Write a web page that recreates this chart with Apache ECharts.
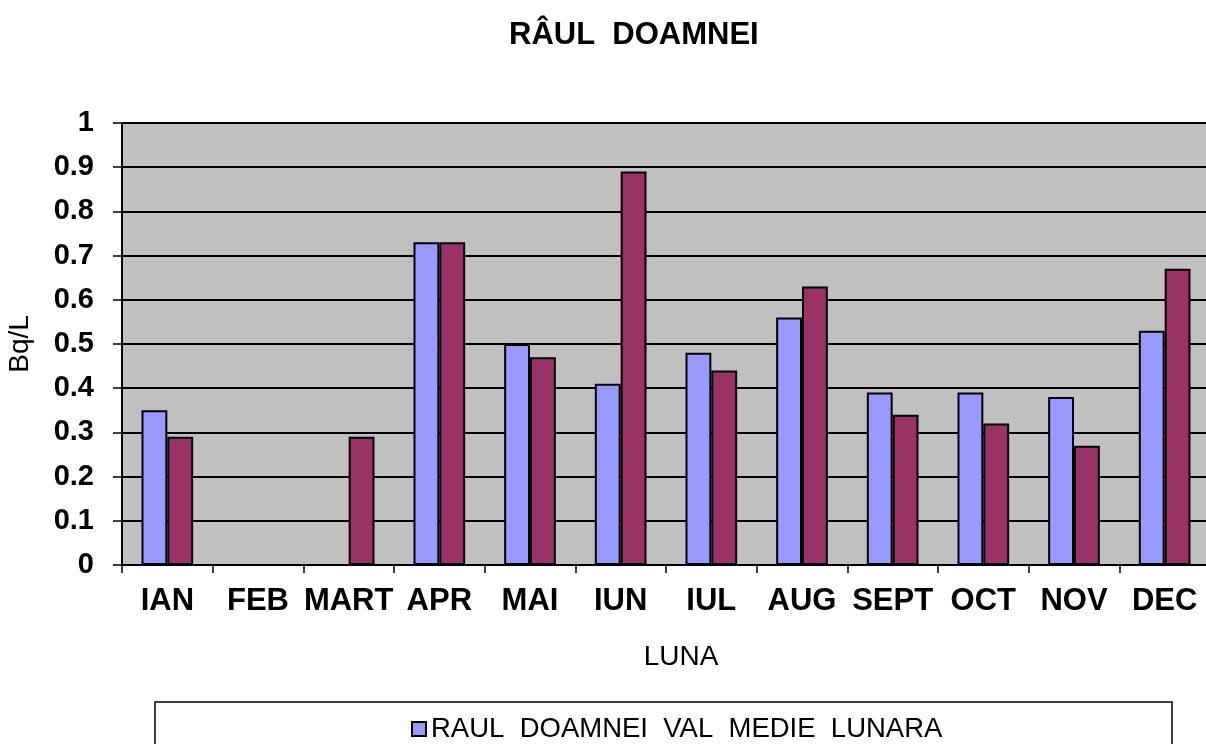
<!DOCTYPE html>
<html>
<head>
<meta charset="utf-8">
<script src="https://cdn.jsdelivr.net/npm/echarts@6/dist/echarts.min.js"></script>
<style>
  html, body { margin: 0; padding: 0; background: #fff; }
  #chart { width: 1206px; height: 744px; }
</style>
</head>
<body>
<div id="chart"></div>
<script>
// luni
var months = ["IAN", "FEB", "MART", "APR", "MAI", "IUN", "IUL", "AUG", "SEPT", "OCT", "NOV", "DEC"];
// valori medii lunare (Bq/L)
var valMedie = [0.35, null, null, 0.73, 0.50, 0.41, 0.48, 0.56, 0.39, 0.39, 0.38, 0.53];
// a doua serie (legenda ei e taiata in imagine)
var valMaxima = [0.29, null, 0.29, 0.73, 0.47, 0.89, 0.44, 0.63, 0.34, 0.32, 0.27, 0.67];
var yTicks = [0, 0.1, 0.2, 0.3, 0.4, 0.5, 0.6, 0.7, 0.8, 0.9, 1];

var chart = echarts.init(document.getElementById("chart"));
var font = "Liberation Sans, Arial, sans-serif";

var option = {
  animation: false,
  title: {
    text: "RÂUL  DOAMNEI",
    left: 504,
    top: 15,
    textStyle: { fontFamily: font, fontSize: 31, fontWeight: "bold", color: "#000" }
  },
  graphic: [
    {
      type: "rect",
      shape: { x: 155, y: 702, width: 1017, height: 70 },
      style: { fill: "#fff", stroke: "#000", lineWidth: 1.5 },
      z: 0
    }
  ],
  legend: {
    left: 406,
    top: 710,
    itemWidth: 14,
    itemHeight: 14,
    textStyle: { fontFamily: font, fontSize: 27.5, color: "#000" },
    data: [{ name: "RAUL  DOAMNEI  VAL  MEDIE  LUNARA", icon: "rect" }],
    z: 5
  },
  grid: {
    left: 122,
    right: -4,
    top: 123,
    bottom: 179,
    outerBoundsMode: "none",
    show: true,
    backgroundColor: "#C0C0C0",
    borderColor: "#808080",
    borderWidth: 1
  },
  xAxis: {
    type: "category",
    data: months,
    name: "LUNA",
    nameLocation: "middle",
    nameGap: 78,
    nameTextStyle: { fontFamily: font, fontSize: 28, color: "#000", padding: [0, 0, 0, 30] },
    axisLine: { show: true, lineStyle: { color: "#000", width: 2 } },
    axisTick: { show: true, length: 8, lineStyle: { color: "#000", width: 1.5 } },
    axisLabel: {
      fontFamily: font,
      fontSize: 31,
      fontWeight: "bold",
      color: "#000",
      margin: 21,
      interval: 0
    }
  },
  yAxis: {
    type: "value",
    min: 0,
    max: 1,
    interval: 0.1,
    name: "Bq/L",
    nameLocation: "middle",
    nameGap: 88,
    nameRotate: 90,
    nameTextStyle: { fontFamily: font, fontSize: 28, color: "#000" },
    axisLine: { show: true, lineStyle: { color: "#000", width: 2 } },
    axisTick: { show: true, inside: false, length: 9, lineStyle: { color: "#000", width: 1.5 } },
    axisLabel: {
      fontFamily: font,
      fontSize: 29,
      fontWeight: "bold",
      color: "#000",
      margin: 28,
      formatter: function (v) {
        var t = yTicks.find(function (x) { return Math.abs(x - v) < 1e-6; });
        return t === undefined ? "" : String(t);
      }
    },
    splitLine: { show: true, lineStyle: { color: "#000", width: 1.8 } }
  },
  series: [
    {
      name: "RAUL  DOAMNEI  VAL  MEDIE  LUNARA",
      type: "bar",
      data: valMedie,
      barGap: "0%",
      barCategoryGap: "43%",
      itemStyle: { color: "#9999FF", borderColor: "#000", borderWidth: 2 }
    },
    {
      name: "RAUL  DOAMNEI  VAL  MAXIMA  LUNARA",
      type: "bar",
      data: valMaxima,
      barGap: "0%",
      barCategoryGap: "43%",
      itemStyle: { color: "#993366", borderColor: "#000", borderWidth: 2 }
    }
  ]
};

chart.setOption(option);
</script>
</body>
</html>
